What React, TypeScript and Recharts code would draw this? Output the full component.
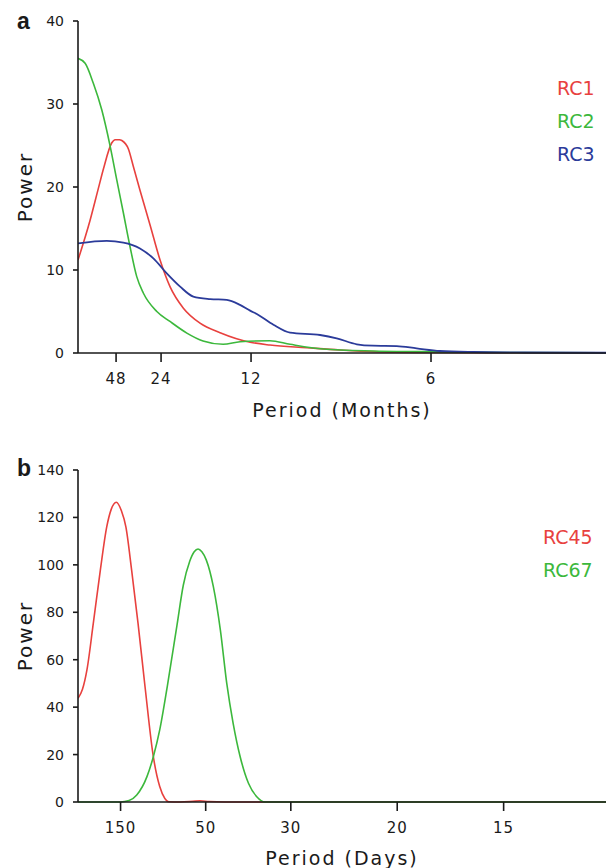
import { LineChart, Line, XAxis, YAxis, Legend } from "recharts";

// panel a: frequency in cycles/month, panel b: cycles/day
const monthTicks = [48, 24, 12, 6];
const dayTicks = [150, 50, 30, 20, 15];
const powerTicksA = [0, 10, 20, 30, 40];
const powerTicksB = [0, 20, 40, 60, 80, 100, 120, 140];

const rc1Freq = [0.0032, 0.0088, 0.0126, 0.015, 0.0188, 0.0204, 0.0224, 0.0235, 0.0265, 0.0288, 0.0319, 0.0366, 0.0412, 0.0458, 0.052, 0.0597, 0.069, 0.0829, 0.0921, 0.1091, 0.1245, 0.1398, 0.17, 0.21, 0.2477];
const rc1Power = [11.2, 16.0, 19.8, 22.2, 25.3, 25.7, 25.7, 25.6, 24.6, 22.5, 19.6, 15.4, 11.2, 8.0, 5.4, 3.6, 2.45, 1.3, 0.96, 0.64, 0.36, 0.16, 0.06, 0.03, 0.02];

const rc2Freq = [0.0032, 0.0065, 0.0103, 0.0142, 0.0181, 0.0212, 0.0242, 0.0273, 0.0304, 0.0335, 0.0397, 0.0458, 0.0536, 0.0611, 0.0704, 0.0782, 0.0921, 0.1014, 0.1167, 0.1398, 0.163, 0.2, 0.2477];
const rc2Power = [35.5, 34.9, 32.5, 29.3, 24.9, 20.8, 16.9, 12.8, 9.2, 7.2, 5.0, 3.8, 2.4, 1.45, 1.05, 1.36, 1.48, 1.05, 0.48, 0.24, 0.16, 0.06, 0.03];

const rc3Freq = [0.0032, 0.0165, 0.0242, 0.0319, 0.0381, 0.0443, 0.0505, 0.0566, 0.0644, 0.0721, 0.0782, 0.0829, 0.086, 0.0937, 0.1014, 0.1153, 0.123, 0.1323, 0.1398, 0.1508, 0.16, 0.1708, 0.1861, 0.21, 0.2477];
const rc3Power = [13.2, 13.5, 13.3, 12.6, 11.4, 9.6, 8.0, 6.8, 6.5, 6.4, 5.8, 5.1, 4.7, 3.4, 2.45, 2.17, 1.77, 1.05, 0.88, 0.84, 0.56, 0.24, 0.12, 0.06, 0.03];

const rc45Freq = [0, 0.0007, 0.0014, 0.0024, 0.0035, 0.0045, 0.0052, 0.006, 0.0068, 0.0075, 0.0084, 0.0094, 0.0105, 0.0118, 0.0128, 0.0136, 0.0142, 0.016, 0.018, 0.0191, 0.0205, 0.023, 0.0827];
const rc45Power = [43.7, 47.5, 55.7, 75.4, 97.8, 116, 123.4, 126.4, 122.8, 116, 97.8, 75.4, 48.6, 19.1, 6.5, 1.5, 0.1, 0, 0.3, 0.5, 0.2, 0, 0];

const rc67Freq = [0, 0.0066, 0.008, 0.0092, 0.0108, 0.0118, 0.0128, 0.014, 0.0155, 0.0165, 0.0175, 0.0182, 0.0188, 0.0194, 0.0201, 0.0212, 0.0223, 0.0233, 0.0243, 0.0254, 0.0267, 0.028, 0.0293, 0.0827];
const rc67Power = [0, 0, 0.6, 2.95, 10.7, 19.1, 30.4, 49, 74.5, 91.5, 101.5, 105.5, 106.7, 105.5, 102, 90.8, 72.5, 50, 33.2, 19.1, 7.9, 2.2, 0, 0];

const RED = "#e8413e";
const GREEN = "#3cb83c";
const BLUE = "#2b3b9a";
const INK = "#1a1a1a";
const FONT = '"DejaVu Sans", sans-serif';

const zip = (f: number[], p: number[]) => f.map((v, i) => ({ f: v, p: p[i] }));

const axisLine = { stroke: INK, strokeWidth: 1.6 };
const xTick = { fontSize: 15, fill: INK, fontFamily: FONT, letterSpacing: 1 };
const yTick = { fontSize: 14, fill: INK, fontFamily: FONT };

function xTitle(text: string, offset: number) {
  return (props: any) => {
    const { x, y, width, height } = props.viewBox;
    return (
      <text x={x + width / 2} y={y + height - offset} textAnchor="middle" fontSize={19} letterSpacing={2} fill={INK} fontFamily={FONT}>
        {text}
      </text>
    );
  };
}

const powerTitle = (props: any) => {
  const { y, height } = props.viewBox;
  const cy = y + height / 2;
  return (
    <text x={32} y={cy} transform={`rotate(-90, 32, ${cy})`} textAnchor="middle" fontSize={20} letterSpacing={2} fill={INK} fontFamily={FONT}>
      Power
    </text>
  );
};

const legendBox = (props: any) => (
  <div style={{ fontFamily: FONT, fontSize: 19, lineHeight: "33px" }}>
    {props.payload.map((e: any) => (
      <div key={e.value} style={{ color: e.color }}>{e.value}</div>
    ))}
  </div>
);

function PanelA() {
  const domain = [0.0032, 0.2477];
  return (
    <LineChart width={606} height={440} margin={{ top: 21, right: 0, bottom: 0, left: 0 }}>
      <XAxis
        xAxisId="b"
        dataKey="f"
        type="number"
        domain={domain}
        allowDataOverflow
        ticks={monthTicks.map((m) => 1 / m)}
        tickFormatter={(v) => String(Math.round(1 / v))}
        height={87}
        tickSize={9}
        tickMargin={11}
        axisLine={axisLine}
        tickLine={axisLine}
        tick={xTick}
        label={xTitle("Period (Months)", 23)}
      />
      <XAxis xAxisId="t" orientation="top" dataKey="f" type="number" domain={domain} allowDataOverflow height={0} tick={false} tickLine={false} axisLine={axisLine} />
      <YAxis
        dataKey="p"
        type="number"
        domain={[0, 40]}
        ticks={powerTicksA}
        width={78}
        tickSize={5}
        tickMargin={9}
        axisLine={axisLine}
        tickLine={axisLine}
        tick={yTick}
        label={powerTitle}
      />
      <Legend layout="vertical" align="center" verticalAlign="middle" content={legendBox} wrapperStyle={{ left: 557, top: 71.5, width: 60, height: 100 }} />
      <Line xAxisId="b" data={zip(rc1Freq, rc1Power)} dataKey="p" name="RC1" type="monotone" stroke={RED} strokeWidth={1.6} dot={false} activeDot={false} isAnimationActive={false} />
      <Line xAxisId="b" data={zip(rc2Freq, rc2Power)} dataKey="p" name="RC2" type="monotone" stroke={GREEN} strokeWidth={1.6} dot={false} activeDot={false} isAnimationActive={false} />
      <Line xAxisId="b" data={zip(rc3Freq, rc3Power)} dataKey="p" name="RC3" type="monotone" stroke={BLUE} strokeWidth={1.8} dot={false} activeDot={false} isAnimationActive={false} />
    </LineChart>
  );
}

function PanelB() {
  const domain = [0, 0.0827];
  return (
    <LineChart width={606} height={428} margin={{ top: 30, right: 0, bottom: 0, left: 0 }}>
      <XAxis
        xAxisId="b"
        dataKey="f"
        type="number"
        domain={domain}
        allowDataOverflow
        ticks={dayTicks.map((d) => 1 / d)}
        tickFormatter={(v) => String(Math.round(1 / v))}
        height={66}
        tickSize={9}
        tickMargin={11}
        axisLine={axisLine}
        tickLine={axisLine}
        tick={xTick}
        label={xTitle("Period (Days)", 3)}
      />
      <XAxis xAxisId="t" orientation="top" dataKey="f" type="number" domain={domain} allowDataOverflow height={0} tick={false} tickLine={false} axisLine={axisLine} />
      <YAxis
        dataKey="p"
        type="number"
        domain={[0, 140]}
        ticks={powerTicksB}
        width={78}
        tickSize={5}
        tickMargin={9}
        axisLine={axisLine}
        tickLine={axisLine}
        tick={yTick}
        label={powerTitle}
      />
      <Legend layout="vertical" align="center" verticalAlign="middle" content={legendBox} wrapperStyle={{ left: 543, top: 80.5, width: 62, height: 70 }} />
      <Line xAxisId="b" data={zip(rc45Freq, rc45Power)} dataKey="p" name="RC45" type="monotone" stroke={RED} strokeWidth={1.6} dot={false} activeDot={false} isAnimationActive={false} />
      <Line xAxisId="b" data={zip(rc67Freq, rc67Power)} dataKey="p" name="RC67" type="monotone" stroke={GREEN} strokeWidth={1.6} dot={false} activeDot={false} isAnimationActive={false} />
    </LineChart>
  );
}

export default function App() {
  const letter = { position: "absolute" as const, left: 17, fontFamily: '"Liberation Sans", Arial, sans-serif', fontWeight: 700, fontSize: 23, lineHeight: "23px", color: INK };
  return (
    <div style={{ position: "absolute", left: 0, top: 0, width: 606, height: 868, background: "#fff", fontFamily: FONT, overflow: "hidden" }}>
      <div style={{ position: "absolute", left: 0, top: 0 }}>
        <PanelA />
      </div>
      <div style={{ position: "absolute", left: 0, top: 440 }}>
        <PanelB />
      </div>
      <div style={{ ...letter, top: 9.8 }}>a</div>
      <div style={{ ...letter, top: 456.5 }}>b</div>
    </div>
  );
}
